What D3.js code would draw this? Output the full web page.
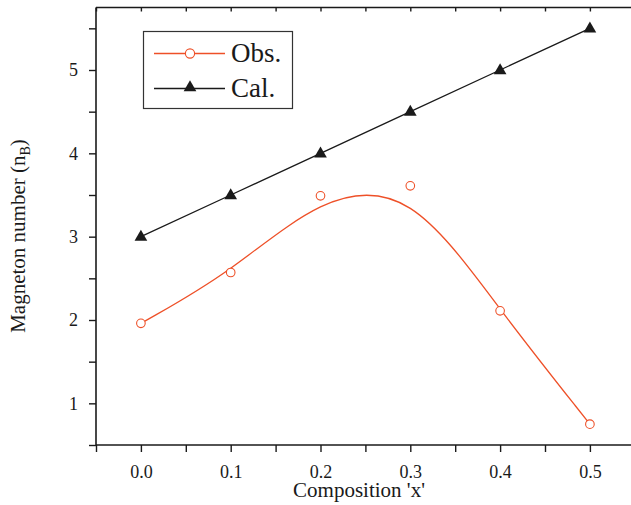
<!DOCTYPE html>
<html>
<head>
<meta charset="utf-8">
<script src="https://cdn.jsdelivr.net/npm/d3@7"></script>
<style>
  html, body { margin: 0; padding: 0; background: #fff; }
  svg { display: block; }
</style>
</head>
<body>
<svg id="chart" width="631" height="505"></svg>
<script>
// Composition x of the series
const composition = [0.0, 0.1, 0.2, 0.3, 0.4, 0.5];
// Observed magneton number
const observed = [1.96, 2.57, 3.49, 3.61, 2.11, 0.75];
// Calculated magneton number
const calculated = [3.0, 3.5, 4.0, 4.5, 5.0, 5.5];
// Axis ticks
const xTicks = [-0.05, 0.0, 0.05, 0.1, 0.15, 0.2, 0.25, 0.3, 0.35, 0.4, 0.45, 0.5, 0.55];
const xLabels = [0.0, 0.1, 0.2, 0.3, 0.4, 0.5];
const yTicks = [0.5, 1, 1.5, 2, 2.5, 3, 3.5, 4, 4.5, 5, 5.5];
const yLabels = [1, 2, 3, 4, 5];
const seriesNames = ["Obs.", "Cal."];

const obsColor = "#ee5028";
const calColor = "#1a1a1a";
const axisColor = "#1a1a1a";
const serif = '"Liberation Serif"';

const svg = d3.select("#chart");
const plotLeft = 96, plotTop = 7.5, plotBottom = 445;

const x = d3.scaleLinear().domain([-0.05, 0.55]).range([plotLeft, plotLeft + 0.6 * 898]);
const y = d3.scaleLinear().domain([0.5, 5.75]).range([plotBottom, plotTop]);

const isLabel = (v, list) => list.some(l => Math.abs(l - v) < 1e-9);

// Bottom axis
const xAxis = d3.axisBottom(x)
  .tickValues(xTicks)
  .tickSize(7)
  .tickSizeOuter(0)
  .tickPadding(13)
  .tickFormat(d => isLabel(d, xLabels) ? d3.format(".1f")(d) : "");
const gx = svg.append("g").attr("transform", `translate(0,${plotBottom})`).call(xAxis);

// Top border with inward ticks
const xTop = d3.axisTop(x)
  .tickValues(xTicks)
  .tickSize(-4)
  .tickSizeOuter(0)
  .tickFormat("");
const gxt = svg.append("g").attr("transform", `translate(0,${plotTop})`).call(xTop);

// Left axis
const yAxis = d3.axisLeft(y)
  .tickValues(yTicks)
  .tickSize(7)
  .tickSizeOuter(0)
  .tickPadding(11)
  .tickFormat(d => isLabel(d, yLabels) ? d3.format("d")(d) : "");
const gy = svg.append("g").attr("transform", `translate(${plotLeft},0)`).call(yAxis);

[gx, gxt, gy].forEach(g => {
  g.attr("font-family", null).attr("font-size", null);
  g.select(".domain").attr("stroke", axisColor).attr("stroke-width", 1.6);
  g.selectAll(".tick line").attr("stroke", axisColor).attr("stroke-width", 1.4);
  g.selectAll(".tick text")
    .style("font-family", serif)
    .style("font-size", "18px")
    .attr("fill", "#1a1a1a");
});
// frame lines run from the left axis to the right edge
gxt.select(".domain").attr("d", `M${plotLeft},0H${631 + 10}`);
gy.select(".domain").attr("d", `M0,${plotTop}V${plotBottom}`);
gx.select(".domain").attr("d", `M${plotLeft},0H${631 + 10}`);

// Axis titles
svg.append("text")
  .attr("x", 359).attr("y", 497)
  .attr("text-anchor", "middle")
  .style("font-family", serif)
  .style("font-size", "21px")
  .attr("fill", "#1a1a1a")
  .text("Composition 'x'");

const yTitle = svg.append("text")
  .attr("transform", "translate(25,236) rotate(-90)")
  .attr("text-anchor", "middle")
  .style("font-family", serif)
  .style("font-size", "21px")
  .attr("fill", "#1a1a1a");
yTitle.append("tspan").text("Magneton number (n");
yTitle.append("tspan").style("font-size", "14px").attr("dy", 5).text("B");
yTitle.append("tspan").attr("dy", -5).text(")");

// Calculated series: straight segments with filled triangles
const lineCal = d3.line().x((d, i) => x(composition[i])).y(d => y(d));
svg.append("path")
  .attr("d", lineCal(calculated))
  .attr("fill", "none")
  .attr("stroke", calColor)
  .attr("stroke-width", 1.3);

const tri = d3.symbol().type(d3.symbolTriangle).size(70);
svg.append("g").selectAll("path")
  .data(calculated)
  .join("path")
  .attr("d", tri)
  .attr("transform", (d, i) => `translate(${x(composition[i])},${y(d) + 0.5})`)
  .attr("fill", calColor);

// Observed series: smooth B-spline through the measured points
const lineObs = d3.line().curve(d3.curveBasis).x((d, i) => x(composition[i])).y(d => y(d));
svg.append("path")
  .attr("d", lineObs(observed))
  .attr("fill", "none")
  .attr("stroke", obsColor)
  .attr("stroke-width", 1.3);

svg.append("g").selectAll("circle")
  .data(observed)
  .join("circle")
  .attr("cx", (d, i) => x(composition[i]))
  .attr("cy", d => y(d))
  .attr("r", 4.3)
  .attr("fill", "#fff")
  .attr("stroke", obsColor)
  .attr("stroke-width", 1.1);

// Legend
const legend = svg.append("g");
legend.append("rect")
  .attr("x", 143.5).attr("y", 31.5)
  .attr("width", 149).attr("height", 77)
  .attr("fill", "#fff")
  .attr("stroke", "#333")
  .attr("stroke-width", 1.2);

const legendRows = [
  { name: seriesNames[0], y: 53.5, color: obsColor, mark: "circle" },
  { name: seriesNames[1], y: 88.5, color: calColor, mark: "triangle" }
];
legendRows.forEach(r => {
  legend.append("line")
    .attr("x1", 154).attr("x2", 225)
    .attr("y1", r.y).attr("y2", r.y)
    .attr("stroke", r.color).attr("stroke-width", 1.3);
  if (r.mark === "circle") {
    legend.append("circle")
      .attr("cx", 190).attr("cy", r.y).attr("r", 4.6)
      .attr("fill", "#fff").attr("stroke", r.color).attr("stroke-width", 1.1);
  } else {
    legend.append("path")
      .attr("d", tri)
      .attr("transform", `translate(190,${r.y - 1})`)
      .attr("fill", r.color);
  }
  legend.append("text")
    .attr("x", 231).attr("y", r.y + 8.5)
    .style("font-family", serif)
    .style("font-size", "27px")
    .attr("fill", "#1a1a1a")
    .text(r.name);
});
</script>
</body>
</html>
